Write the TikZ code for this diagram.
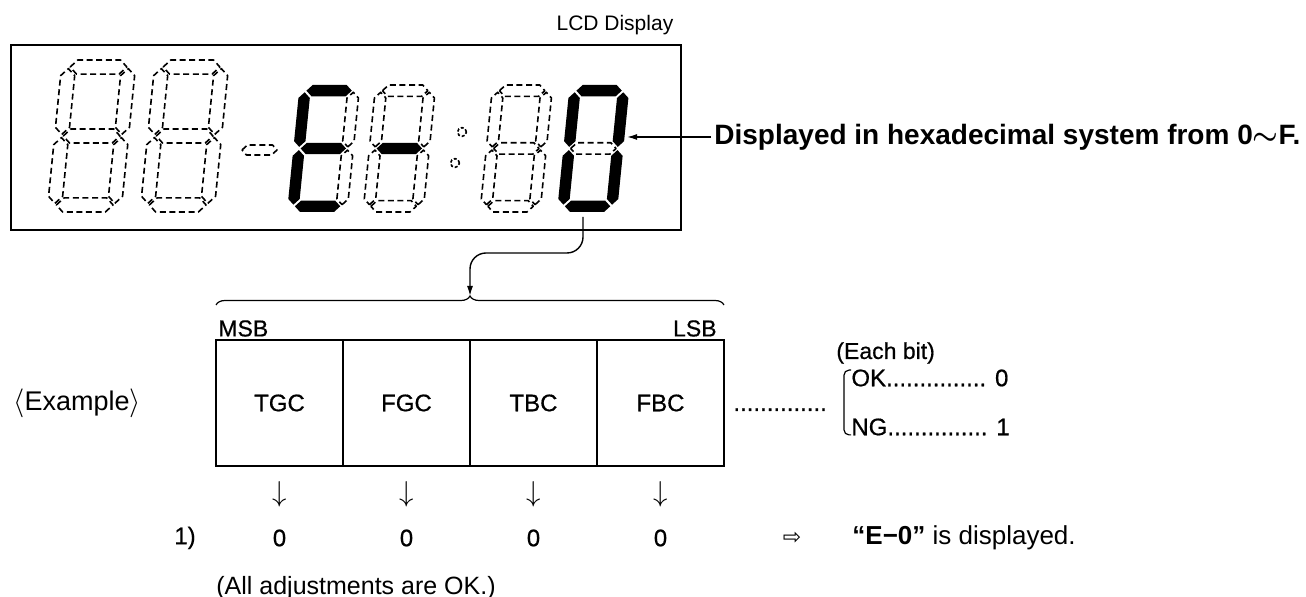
\documentclass[tikz,border=0pt]{standalone}
\usepackage{fontspec}
\setmainfont{Liberation Sans}
\newfontfamily\medio{Liberation Sans}[FakeBold=0.6]
\newfontfamily\simbolos{DejaVu Sans}
\usepackage{tikz}
\usetikzlibrary{positioning,arrows.meta,calc,decorations.pathreplacing}

% Segmento horizontal: estilo, x inicial, x final, y
\newcommand{\segh}[4]{\path[#1] ({#2},{#4}) -- ({#2+\mt},{#4+\mt})
  -- ({#3-\mt},{#4+\mt}) -- ({#3},{#4}) -- ({#3-\mt},{#4-\mt})
  -- ({#2+\mt},{#4-\mt}) -- cycle;}
% Segmento vertical: estilo, x, y inicial, y final
\newcommand{\segv}[4]{\path[#1] ({#2},{#3}) -- ({#2+\mt},{#3+\mt})
  -- ({#2+\mt},{#4-\mt}) -- ({#2},{#4}) -- ({#2-\mt},{#4-\mt})
  -- ({#2-\mt},{#3+\mt}) -- cycle;}
% Digito de siete segmentos: opciones, esquina inferior izquierda, ancho, alto
\newcommand{\digito}[4][]{%
  \begin{scope}[shift={#2}, y=0.5pt, xslant=0.1, #1]
    \pgfmathsetmacro\anchd{#3}
    \pgfmathsetmacro\altd{#4}
    \pgfmathsetmacro\mt{0.095*#3}
    \pgfmathsetmacro\gp{1.6}
    \segh{seg a}{\mt+\gp}{\anchd-\mt-\gp}{\altd-\mt}
    \segv{seg b}{\anchd-\mt}{\altd/2+\gp}{\altd-\mt-\gp}
    \segv{seg c}{\anchd-\mt}{\mt+\gp}{\altd/2-\gp}
    \segh{seg d}{\mt+\gp}{\anchd-\mt-\gp}{\mt}
    \segv{seg e}{\mt}{\mt+\gp}{\altd/2-\gp}
    \segv{seg f}{\mt}{\altd/2+\gp}{\altd-\mt-\gp}
    \segh{seg g}{\mt+\gp}{\anchd-\mt-\gp}{\altd/2}
  \end{scope}}

\begin{document}
\begin{tikzpicture}[x=0.5pt, y=-0.5pt,
  segoff/.style={draw, line width=0.8pt, dash pattern=on 3pt off 1.8pt,
    line join=round},
  segon/.style={fill=black},
  seg a/.style={segoff}, seg b/.style={segoff}, seg c/.style={segoff},
  seg d/.style={segoff}, seg e/.style={segoff}, seg f/.style={segoff},
  seg g/.style={segoff},
  pantalla/.style={draw, line width=0.7pt, minimum width=335pt,
    minimum height=92.5pt, inner sep=0pt},
  celda/.style={draw, line width=0.9pt, minimum width=63.5pt,
    minimum height=63pt, inner sep=0pt, outer sep=0pt,
    font=\medio\fontsize{12}{14}\selectfont},
  rotulo/.style={inner sep=0pt, font=\medio\fontsize{12}{14}\selectfont},
  flecha/.style={-{Latex[length=5pt, width=3pt]}, line width=0.7pt}
]
\useasboundingbox (0,0) rectangle (1306,597);
% Visor LCD
\node[pantalla] (lcd) at (346,137.5) {};
\node[rotulo, font=\normalfont\fontsize{10.5}{12}\selectfont,
  above left=4.5pt and 4pt of lcd.north east] (tlcd) {LCD Display};
\digito{(47,212)}{74}{152}
\digito{(140,212)}{74}{152}
\begin{scope}[shift={(242,150)}, y=0.5pt, xslant=0.1]
  \pgfmathsetmacro\mt{5}
  \segh{segoff}{0}{35}{0}
\end{scope}
\digito[seg a/.style={segon}, seg d/.style={segon}, seg e/.style={segon},
  seg f/.style={segon}, seg g/.style={segon}]{(287,212)}{60}{127}
\digito[seg g/.style={segon}]{(363,212)}{60}{127}
\draw[segoff, dash pattern=on 1.5pt off 1pt] (462,132) circle[radius=2.2pt]
  (455,163) circle[radius=2.2pt];
\digito{(480,212)}{60}{127}
\digito[seg a/.style={segon}, seg b/.style={segon}, seg c/.style={segon},
  seg d/.style={segon}, seg e/.style={segon}, seg f/.style={segon}]{(557,212)}{60}{127}
% Nota hexadecimal
\node[rotulo, font=\normalfont\bfseries\fontsize{14}{16}\selectfont, anchor=west,
  inner sep=1.5pt] (hexa) at (711,137)
  {Displayed in hexadecimal system from 0{\boldmath$\sim$}F.};
\coordinate (d6der) at (627,137);
\draw[flecha] (hexa.west) -- (d6der);
% Registro de bits
\node[celda] (tgc) at (279.5,403) {TGC};
\node[celda, right=0pt of tgc] (fgc) {FGC};
\node[celda, right=0pt of fgc] (tbc) {TBC};
\node[celda, right=0pt of tbc] (fbc) {FBC};
\node[rotulo, font=\medio\fontsize{11.5}{13}\selectfont,
  above right=1.5pt and 1pt of tgc.north west] (msb) {MSB};
\node[rotulo, font=\medio\fontsize{11.5}{13}\selectfont,
  above left=1.5pt and 3.5pt of fbc.north east] (lsb) {LSB};
\draw[decorate, decoration={brace, amplitude=4.5pt}, line width=0.6pt]
  ($(tgc.north west)+(0,-35)$) -- ($(fbc.north east)+(0,-35)$);
% Del ultimo digito al registro
\coordinate (segd) at (583,217);
\coordinate (cresta) at ($(fgc.north east)+(0,-44)$);
\draw[flecha, rounded corners=8pt] (segd) |- ($(cresta)+(0,-43)$) -- (cresta);
% Ejemplo y valores de cada bit
\node[rotulo, font=\normalfont\fontsize{13.5}{15}\selectfont, anchor=west] (ejemplo)
  at (13,403) {$\langle$Example$\rangle$};
\node[rotulo, anchor=base west] (puntos) at (733,411) {..............};
\node[rotulo, font=\medio\fontsize{11.5}{13}\selectfont, anchor=west] (cadabit)
  at (836,353) {(Each bit)};
\node[rotulo, anchor=west, align=left, font=\medio\fontsize{12}{24.5}\selectfont]
  (bits) at (851,402.5) {OK............... 0\\NG............... 1};
\draw[line width=0.6pt, rounded corners=2.5pt] ($(bits.north west)+(0,1)$)
  -| ($(bits.west)+(-7,0)$) |- ($(bits.south west)+(0,-1)$);
% Resultado
\coordinate (filaf) at (0,494);
\coordinate (filac) at (0,538);
\node[rotulo, font=\fontsize{14}{16}\selectfont] (ftgc) at (tgc |- filaf) {$\downarrow$};
\node[rotulo, font=\fontsize{14}{16}\selectfont] (ffgc) at (fgc |- filaf) {$\downarrow$};
\node[rotulo, font=\fontsize{14}{16}\selectfont] (ftbc) at (tbc |- filaf) {$\downarrow$};
\node[rotulo, font=\fontsize{14}{16}\selectfont] (ffbc) at (fbc |- filaf) {$\downarrow$};
\node[rotulo] (uno) at (185,538) {1)};
\node[rotulo] (ctgc) at (tgc |- filac) {0};
\node[rotulo] (cfgc) at (fgc |- filac) {0};
\node[rotulo] (ctbc) at (tbc |- filac) {0};
\node[rotulo] (cfbc) at (fbc |- filac) {0};
\node[rotulo, font=\simbolos\fontsize{11}{13}\selectfont] (implica) at (792,538) {⇨};
\node[rotulo, anchor=west, font=\normalfont\fontsize{13}{15}\selectfont] (resultado)
  at (852,538) {\textbf{“E−0”} is displayed.};
\node[rotulo, anchor=west, font=\normalfont\fontsize{12.5}{14}\selectfont] (todook)
  at (216,588) {(All adjustments are OK.)};
\end{tikzpicture}
\end{document}
